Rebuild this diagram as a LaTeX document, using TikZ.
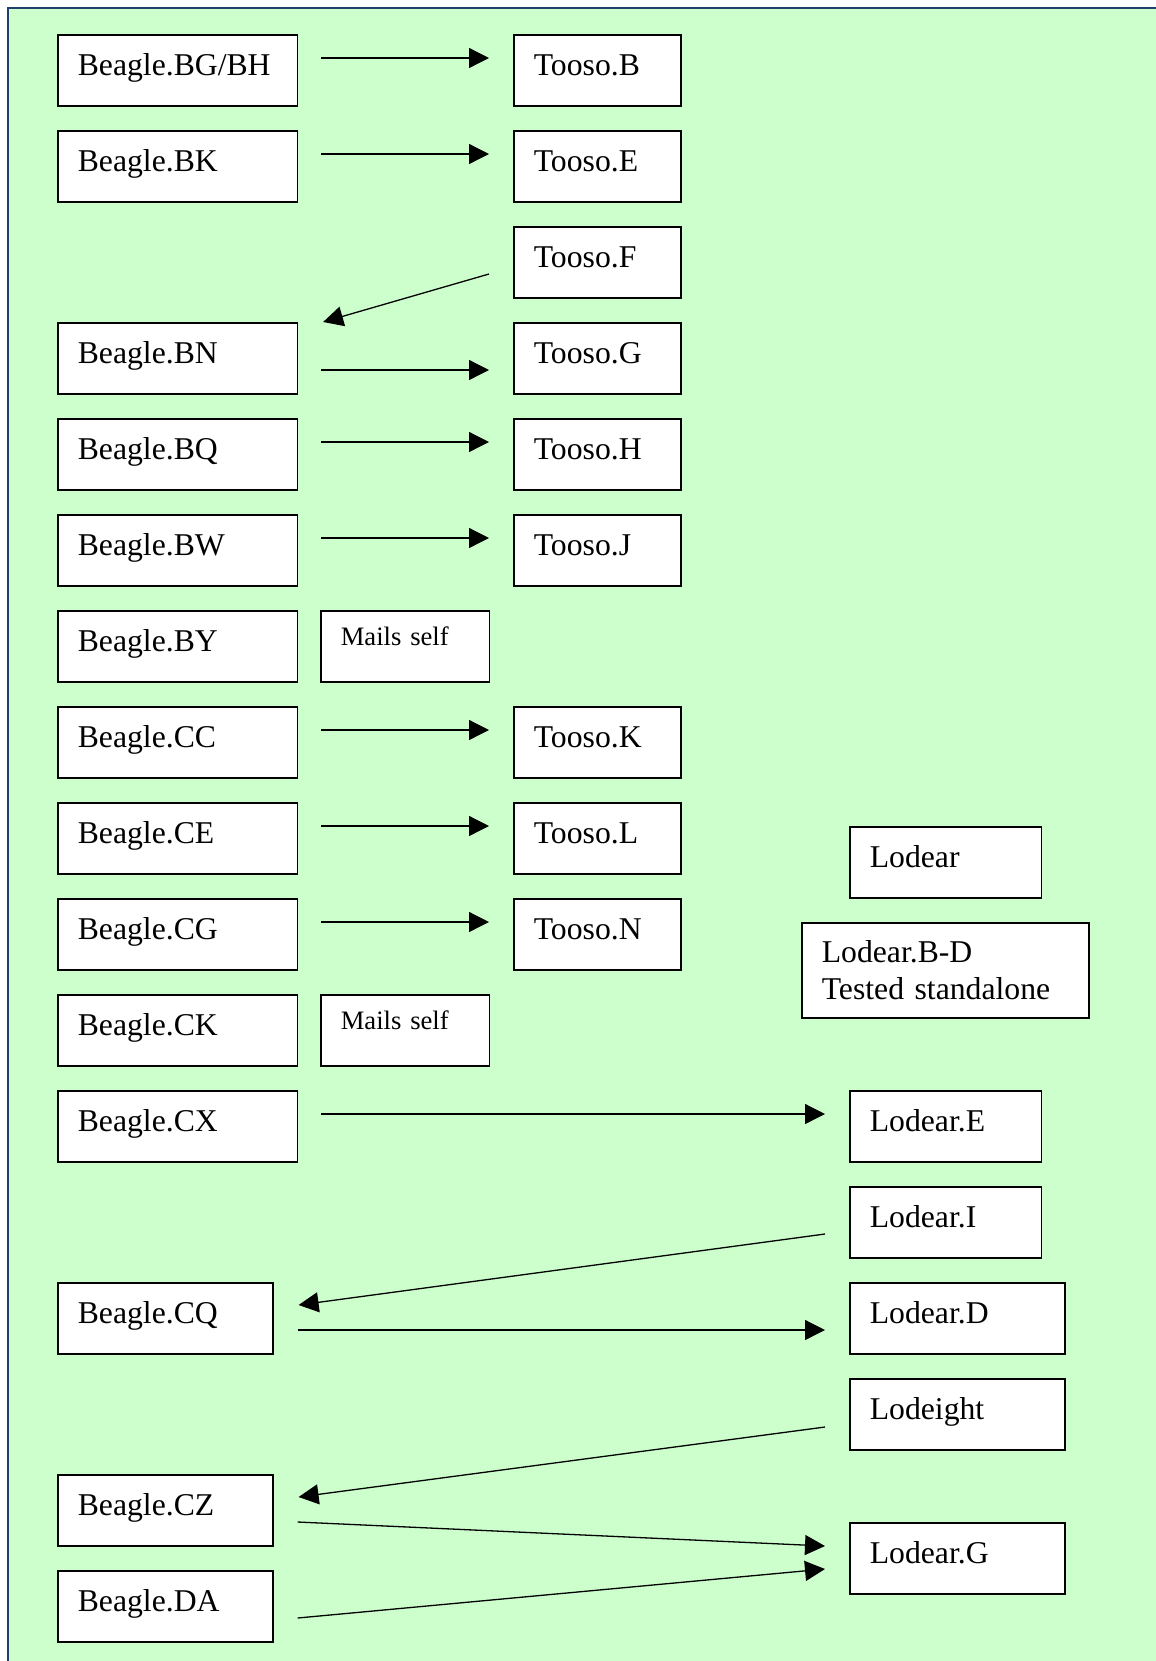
\documentclass[tikz,border=0pt]{standalone}
\usepackage{fontspec}
\setmainfont{Liberation Serif}
\usetikzlibrary{arrows.meta}
\definecolor{bggreen}{RGB}{204,255,204}
\definecolor{frameblue}{RGB}{31,63,111}
\tikzset{
  bx/.style={draw, fill=white, line width=0.8pt, anchor=north west, inner xsep=10pt, inner ysep=0pt,
    text height=20.5pt, text depth=15pt, align=left, text width=#1},
  mails/.style={bx=64.25pt, font=\fontsize{13.3}{15.5}\selectfont, text height=17.5pt, text depth=18pt},
  link/.style={-{Triangle[length=10pt,width=10pt]}, line width=0.65pt}
}
\begin{document}
\begin{tikzpicture}[x=0.5pt, y=-0.5pt, font=\fontsize{15.85}{18.3}\selectfont]
			\useasboundingbox (0,0) rectangle (1156,1661);
			\draw[fill=bggreen, draw=frameblue, line width=1pt] (8,8) rectangle (1180,1680);

			\node[bx=99.75pt] (bgbh) at (57,34) {Beagle.BG/BH};
			\node[bx=99.75pt] (bk) at (57,130) {Beagle.BK};
			\node[bx=99.75pt] (bn) at (57,322) {Beagle.BN};
			\node[bx=99.75pt] (bq) at (57,418) {Beagle.BQ};
			\node[bx=99.75pt] (bw) at (57,514) {Beagle.BW};
			\node[bx=99.75pt] (by) at (57,610) {Beagle.BY};
			\node[bx=99.75pt] (cc) at (57,706) {Beagle.CC};
			\node[bx=99.75pt] (ce) at (57,802) {Beagle.CE};
			\node[bx=99.75pt] (cg) at (57,898) {Beagle.CG};
			\node[bx=99.75pt] (ck) at (57,994) {Beagle.CK};
			\node[bx=99.75pt] (cx) at (57,1090) {Beagle.CX};
			\node[bx=87.5pt] (cq) at (57,1282) {Beagle.CQ};
			\node[bx=87.5pt] (cz) at (57,1474) {Beagle.CZ};
			\node[bx=87.5pt] (da) at (57,1570) {Beagle.DA};

			\node[bx=63.7pt] (tb) at (513,34) {Tooso.B};
			\node[bx=63.7pt] (te) at (513,130) {Tooso.E};
			\node[bx=63.7pt] (tf) at (513,226) {Tooso.F};
			\node[bx=63.7pt] (tg) at (513,322) {Tooso.G};
			\node[bx=63.7pt] (th) at (513,418) {Tooso.H};
			\node[bx=63.7pt] (tj) at (513,514) {Tooso.J};
			\node[bx=63.7pt] (tk) at (513,706) {Tooso.K};
			\node[bx=63.7pt] (tl) at (513,802) {Tooso.L};
			\node[bx=63.7pt] (tn) at (513,898) {Tooso.N};

			\node[mails] (mailsby) at (320,610) {Mails self};
			\node[mails] (mailsck) at (320,994) {Mails self};

			\node[bx=75.9pt] (lod) at (849,826) {Lodear};
			\node[bx=123.6pt, text height=20pt, text depth=27.5pt] (lodbd) at (801,922) {Lodear.B-D\\Tested standalone};
			\node[bx=75.9pt] (lode) at (849,1090) {Lodear.E};
			\node[bx=75.9pt] (lodi) at (849,1186) {Lodear.I};
			\node[bx=87.5pt] (lodd) at (849,1282) {Lodear.D};
			\node[bx=87.5pt] (lodeight) at (849,1378) {Lodeight};
			\node[bx=87.5pt] (lodg) at (849,1522) {Lodear.G};

			\foreach \a/\b in {bgbh/tb, bk/te, bq/th, bw/tj, cc/tk, ce/tl, cg/tn, cx/lode}
				\draw[link] ([shift={(23,24)}]\a.north east) -- ([shift={(-24,24)}]\b.north west);
			\draw[link] ([shift={(-24,48)}]tf.north west) -- ([shift={(25,0)}]bn.north east);
			\draw[link] ([shift={(23,48)}]bn.north east) -- ([shift={(-24,48)}]tg.north west);
			\draw[link] ([shift={(-24,48)}]lodi.north west) -- ([shift={(25,23)}]cq.north east);
			\draw[link] ([shift={(24,48)}]cq.north east) -- ([shift={(-24,48)}]lodd.north west);
			\draw[link] ([shift={(-24,49)}]lodeight.north west) -- ([shift={(25,23)}]cz.north east);
			\draw[link] ([shift={(24,48)}]cz.north east) -- ([shift={(-24,24)}]lodg.north west);
			\draw[link] ([shift={(24,48)}]da.north east) -- ([shift={(-24,47)}]lodg.north west);
		\end{tikzpicture}
\end{document}
